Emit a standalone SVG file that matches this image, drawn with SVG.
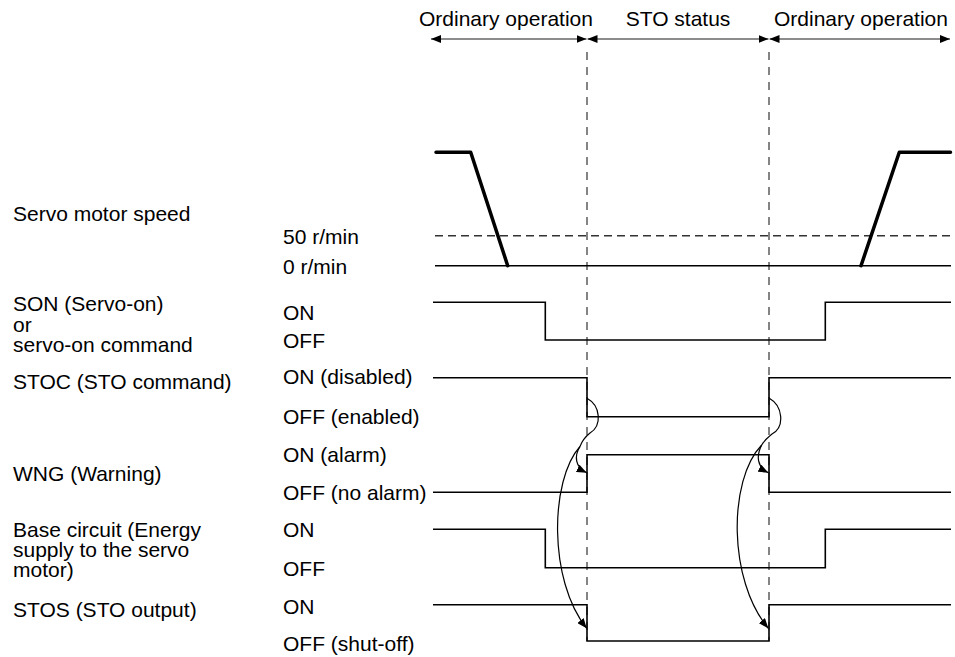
<svg xmlns="http://www.w3.org/2000/svg" width="955" height="657" viewBox="0 0 955 657">
<style>
text{font-family:"Liberation Sans",Arial,sans-serif;font-size:21px;fill:#000}
.sig{fill:none;stroke:#000;stroke-width:1.6}
.spd{fill:none;stroke:#000;stroke-width:3.5;stroke-linecap:round;stroke-linejoin:round}
.dh{fill:none;stroke:#333;stroke-width:1.4;stroke-dasharray:8 5}
.dv{fill:none;stroke:#666;stroke-width:1.6;stroke-dasharray:8 7}
.ph{fill:none;stroke:#666;stroke-width:1.7}
.cur{fill:none;stroke:#000;stroke-width:1.2}
</style>
<defs>
<marker id="ah" viewBox="0 0 10 8" refX="10" refY="4" markerWidth="10" markerHeight="8" markerUnits="userSpaceOnUse" orient="auto">
<path d="M0,0 L10,4 L0,8 Z" fill="#000"/>
</marker>
<marker id="ahs" viewBox="0 0 10 8" refX="10" refY="4" markerWidth="10" markerHeight="8" markerUnits="userSpaceOnUse" orient="auto-start-reverse">
<path d="M0,0 L10,4 L0,8 Z" fill="#000"/>
</marker>
</defs>

<g id="phases">
<text x="419" y="26">Ordinary operation</text>
<text x="678" y="26" text-anchor="middle">STO status</text>
<text x="774" y="26">Ordinary operation</text>
<line class="ph" x1="431" y1="39" x2="586.5" y2="39" marker-start="url(#ahs)" marker-end="url(#ah)"/>
<line class="ph" x1="587.5" y1="39" x2="768.5" y2="39" marker-start="url(#ahs)" marker-end="url(#ah)"/>
<line class="ph" x1="769.5" y1="39" x2="950" y2="39" marker-start="url(#ahs)" marker-end="url(#ah)"/>
</g>

<g id="boundaries">
<line class="dv" x1="587" y1="52" x2="587" y2="641"/>
<line class="dv" x1="769" y1="52" x2="769" y2="641"/>
</g>

<g id="speed">
<text x="13" y="221">Servo motor speed</text>
<text x="283" y="243.5">50 r/min</text>
<text x="283" y="273.5">0 r/min</text>
<line class="dh" x1="435" y1="235.7" x2="952" y2="235.7"/>
<line class="sig" x1="435" y1="265.7" x2="951" y2="265.7"/>
<polyline class="spd" points="436,152.3 470.7,152.3 507.7,265.7"/>
<polyline class="spd" points="861,265.7 899.3,152.3 950.5,152.3"/>
</g>

<g id="son">
<text x="13" y="311">SON (Servo-on)</text>
<text x="13" y="331.5">or</text>
<text x="13" y="352">servo-on command</text>
<text x="283" y="319.5">ON</text>
<text x="283" y="348">OFF</text>
<polyline class="sig" points="433,302.3 545.3,302.3 545.3,340 825.3,340 825.3,302.3 951,302.3"/>
</g>

<g id="stoc">
<text x="13" y="388.5">STOC (STO command)</text>
<text x="283" y="384">ON (disabled)</text>
<text x="283" y="424">OFF (enabled)</text>
<polyline class="sig" points="433,377.7 587,377.7 587,416.7 769,416.7 769,377.7 951,377.7"/>
</g>

<g id="wng">
<text x="13" y="481">WNG (Warning)</text>
<text x="283" y="461.5">ON (alarm)</text>
<text x="283" y="500">OFF (no alarm)</text>
<polyline class="sig" points="433,492.3 587,492.3 587,454.7 769,454.7 769,492.3 951,492.3"/>
</g>

<g id="base">
<text x="13" y="537">Base circuit (Energy</text>
<text x="13" y="557">supply to the servo</text>
<text x="13" y="577">motor)</text>
<text x="283" y="537.3">ON</text>
<text x="283" y="576">OFF</text>
<polyline class="sig" points="433,529.3 545.3,529.3 545.3,567.7 825.3,567.7 825.3,529.3 951,529.3"/>
</g>

<g id="stos">
<text x="13" y="617">STOS (STO output)</text>
<text x="283" y="614">ON</text>
<text x="283" y="651">OFF (shut-off)</text>
<polyline class="sig" points="433,604.7 587,604.7 587,641 769,641 769,604.7 951,604.7"/>
</g>

<g id="connectors">
<path class="cur" d="M587,398.3 C601,406 602,426 590,433 C585,437 582,441 580,446.5"/>
<path class="cur" d="M580,446.5 C574,456 575,467 586.7,472.7" marker-end="url(#ah)"/>
<path class="cur" d="M580,446.5 C550,480 548,580 586.7,628.3" marker-end="url(#ah)"/>
<path class="cur" d="M769.3,398.3 C783,406 785,427 772,434 C767,438 764,441 761.7,445"/>
<path class="cur" d="M761.7,445 C756,456 757,467 768.3,472.7" marker-end="url(#ah)"/>
<path class="cur" d="M761.7,445 C728,480 728,580 768.3,628.3" marker-end="url(#ah)"/>
</g>
</svg>
